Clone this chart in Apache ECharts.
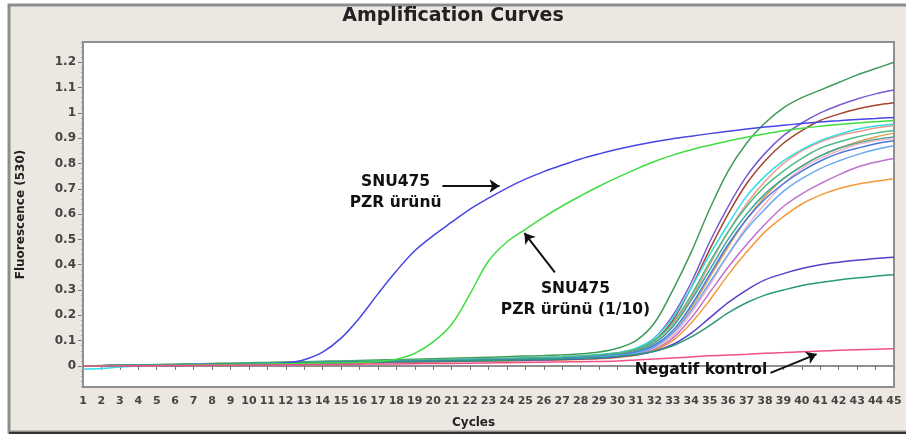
<!DOCTYPE html>
<html>
<head>
<meta charset="utf-8">
<script src="https://cdn.jsdelivr.net/npm/echarts@6/dist/echarts.min.js"></script>
<style>
  html, body { margin: 0; padding: 0; background: #fff; }
  #chart { width: 906px; height: 437px; }
</style>
</head>
<body>
<div id="chart"></div>
<script>
// cycle numbers on the x axis
var cycles = [1, 2, 3, 4, 5, 6, 7, 8, 9, 10, 11, 12, 13, 14, 15, 16, 17, 18, 19, 20,
  21, 22, 23, 24, 25, 26, 27, 28, 29, 30, 31, 32, 33, 34, 35, 36, 37, 38, 39, 40,
  41, 42, 43, 44, 45];
var yTicks = [0, 0.1, 0.2, 0.3, 0.4, 0.5, 0.6, 0.7, 0.8, 0.9, 1, 1.1, 1.2];

// fluorescence per cycle
var sampleGreen = [0.000, 0.002, 0.003, 0.004, 0.006, 0.007, 0.008, 0.010, 0.011, 0.013,
  0.014, 0.016, 0.017, 0.019, 0.020, 0.022, 0.024, 0.025, 0.027, 0.029,
  0.031, 0.033, 0.035, 0.037, 0.039, 0.041, 0.044, 0.048, 0.055,
  0.070, 0.10, 0.17, 0.30, 0.45, 0.62, 0.77, 0.88, 0.96, 1.02, 1.06, 1.09, 1.12, 1.15, 1.175, 1.20];
var samplePurple = [0.000, 0.001, 0.002, 0.003, 0.004, 0.005, 0.006, 0.007, 0.008, 0.009,
  0.010, 0.012, 0.013, 0.014, 0.016, 0.017, 0.018, 0.020, 0.021, 0.022,
  0.024, 0.025, 0.027, 0.028, 0.030, 0.032, 0.034, 0.037, 0.042,
  0.050, 0.068, 0.11, 0.20, 0.33, 0.49, 0.63, 0.75, 0.84, 0.91, 0.96, 1.00, 1.03, 1.055, 1.075, 1.09];
var sampleBrown = [0.000, 0.001, 0.002, 0.002, 0.003, 0.004, 0.005, 0.006, 0.007, 0.008,
  0.009, 0.010, 0.011, 0.012, 0.013, 0.014, 0.015, 0.016, 0.017, 0.018,
  0.019, 0.020, 0.022, 0.023, 0.025, 0.027, 0.030, 0.034, 0.040,
  0.048, 0.064, 0.10, 0.18, 0.31, 0.46, 0.60, 0.72, 0.81, 0.88, 0.93, 0.97, 0.995, 1.015, 1.03, 1.04];
var sampleSalmon = [0.000, 0.000, 0.001, 0.002, 0.003, 0.004, 0.005, 0.006, 0.007, 0.008,
  0.009, 0.010, 0.011, 0.012, 0.013, 0.014, 0.015, 0.016, 0.017, 0.018,
  0.019, 0.020, 0.021, 0.022, 0.024, 0.026, 0.028, 0.032, 0.037,
  0.045, 0.058, 0.09, 0.16, 0.27, 0.40, 0.53, 0.64, 0.73, 0.80, 0.85, 0.885, 0.91, 0.925, 0.94, 0.95];
var sampleCyan = [-0.012, -0.010, -0.004, 0.000, 0.002, 0.004, 0.005, 0.006, 0.008, 0.009,
  0.010, 0.012, 0.013, 0.014, 0.016, 0.017, 0.018, 0.020, 0.021, 0.022,
  0.024, 0.025, 0.027, 0.029, 0.031, 0.033, 0.035, 0.039, 0.044,
  0.052, 0.070, 0.11, 0.19, 0.31, 0.44, 0.56, 0.67, 0.75, 0.81, 0.855, 0.89, 0.915, 0.935, 0.948, 0.955];
var sampleSeaGreen = [0.000, 0.001, 0.002, 0.003, 0.004, 0.006, 0.007, 0.009, 0.010, 0.011,
  0.013, 0.014, 0.015, 0.017, 0.018, 0.019, 0.021, 0.022, 0.024, 0.025,
  0.027, 0.028, 0.030, 0.031, 0.033, 0.035, 0.037, 0.040, 0.045,
  0.052, 0.066, 0.10, 0.17, 0.28, 0.41, 0.53, 0.63, 0.71, 0.77, 0.82, 0.86, 0.885, 0.905, 0.92, 0.93];
var sampleTan = [0.000, 0.001, 0.001, 0.002, 0.003, 0.004, 0.005, 0.006, 0.007, 0.008,
  0.009, 0.010, 0.011, 0.012, 0.013, 0.014, 0.015, 0.016, 0.017, 0.018,
  0.019, 0.020, 0.021, 0.022, 0.023, 0.025, 0.027, 0.030, 0.034,
  0.040, 0.050, 0.078, 0.13, 0.23, 0.35, 0.47, 0.58, 0.67, 0.74, 0.79, 0.83, 0.86, 0.885, 0.905, 0.92];
var sampleTeal = [0.000, 0.001, 0.002, 0.003, 0.004, 0.005, 0.006, 0.007, 0.008, 0.010,
  0.011, 0.012, 0.013, 0.014, 0.015, 0.016, 0.018, 0.019, 0.020, 0.021,
  0.022, 0.024, 0.025, 0.026, 0.028, 0.030, 0.032, 0.035, 0.040,
  0.046, 0.058, 0.09, 0.155, 0.26, 0.38, 0.50, 0.60, 0.68, 0.74, 0.79, 0.83, 0.86, 0.88, 0.895, 0.905];
var samplePink = [0.000, 0.000, 0.001, 0.002, 0.002, 0.003, 0.004, 0.005, 0.006, 0.007,
  0.008, 0.009, 0.010, 0.011, 0.012, 0.013, 0.014, 0.015, 0.016, 0.017,
  0.018, 0.019, 0.020, 0.021, 0.022, 0.024, 0.026, 0.029, 0.033,
  0.039, 0.048, 0.072, 0.12, 0.21, 0.32, 0.44, 0.55, 0.64, 0.72, 0.78, 0.82, 0.85, 0.875, 0.89, 0.90];
var sampleRoyal = [0.000, 0.001, 0.002, 0.003, 0.004, 0.005, 0.006, 0.007, 0.008, 0.009,
  0.010, 0.011, 0.012, 0.014, 0.015, 0.016, 0.017, 0.018, 0.019, 0.020,
  0.021, 0.022, 0.023, 0.025, 0.026, 0.028, 0.030, 0.033, 0.037,
  0.043, 0.054, 0.082, 0.14, 0.24, 0.36, 0.48, 0.58, 0.66, 0.72, 0.77, 0.81, 0.84, 0.86, 0.878, 0.89];
var sampleSky = [0.000, 0.001, 0.001, 0.002, 0.003, 0.004, 0.005, 0.006, 0.007, 0.008,
  0.009, 0.010, 0.011, 0.012, 0.013, 0.014, 0.015, 0.016, 0.017, 0.018,
  0.019, 0.020, 0.021, 0.022, 0.024, 0.026, 0.028, 0.031, 0.035,
  0.041, 0.050, 0.075, 0.13, 0.22, 0.33, 0.44, 0.54, 0.62, 0.69, 0.74, 0.78, 0.81, 0.835, 0.855, 0.87];
var sampleViolet = [0.000, 0.000, 0.001, 0.002, 0.003, 0.004, 0.005, 0.006, 0.006, 0.007,
  0.008, 0.009, 0.010, 0.011, 0.012, 0.013, 0.014, 0.015, 0.016, 0.017,
  0.018, 0.019, 0.020, 0.021, 0.022, 0.023, 0.025, 0.028, 0.031,
  0.036, 0.044, 0.065, 0.11, 0.19, 0.29, 0.39, 0.48, 0.56, 0.63, 0.68, 0.72, 0.755, 0.785, 0.805, 0.82];
var sampleOrange = [0.000, 0.000, 0.001, 0.001, 0.002, 0.003, 0.004, 0.005, 0.006, 0.007,
  0.008, 0.009, 0.010, 0.010, 0.011, 0.012, 0.013, 0.014, 0.015, 0.016,
  0.017, 0.018, 0.019, 0.020, 0.021, 0.022, 0.024, 0.026, 0.029,
  0.034, 0.042, 0.062, 0.10, 0.17, 0.26, 0.36, 0.45, 0.53, 0.59, 0.64, 0.675, 0.70, 0.718, 0.73, 0.74];
var sampleIndigo = [0.000, 0.000, 0.001, 0.002, 0.003, 0.004, 0.005, 0.006, 0.007, 0.008,
  0.009, 0.010, 0.011, 0.012, 0.013, 0.014, 0.015, 0.016, 0.017, 0.018,
  0.019, 0.020, 0.021, 0.022, 0.023, 0.024, 0.026, 0.028, 0.031,
  0.036, 0.044, 0.058, 0.085, 0.13, 0.19, 0.25, 0.30, 0.34, 0.365, 0.385, 0.40, 0.41, 0.418, 0.425, 0.43];
var sampleLowTeal = [0.000, 0.001, 0.002, 0.003, 0.004, 0.005, 0.006, 0.007, 0.008, 0.009,
  0.010, 0.011, 0.012, 0.013, 0.014, 0.015, 0.016, 0.017, 0.018, 0.019,
  0.020, 0.021, 0.022, 0.023, 0.025, 0.026, 0.028, 0.030, 0.033,
  0.038, 0.045, 0.058, 0.08, 0.115, 0.16, 0.21, 0.25, 0.28, 0.30, 0.318, 0.33, 0.34, 0.348, 0.355, 0.36];
var snu475 = [0.000, 0.000, 0.001, 0.001, 0.002, 0.002, 0.003, 0.004, 0.005, 0.006,
  0.008, 0.012, 0.025, 0.055, 0.11, 0.19, 0.285, 0.375, 0.455, 0.515,
  0.568, 0.62, 0.663, 0.703, 0.738, 0.768, 0.794, 0.818, 0.838,
  0.856, 0.872, 0.886, 0.898, 0.908, 0.918, 0.927, 0.936, 0.944, 0.951, 0.958, 0.964, 0.969, 0.974, 0.978, 0.982];
var snu475Dil = [0.000, 0.001, 0.001, 0.002, 0.003, 0.003, 0.004, 0.005, 0.006, 0.007,
  0.008, 0.009, 0.010, 0.011, 0.012, 0.014, 0.018, 0.027, 0.05, 0.095,
  0.165, 0.285, 0.415, 0.49, 0.54, 0.588, 0.632, 0.672, 0.71,
  0.745, 0.778, 0.808, 0.833, 0.854, 0.872, 0.889, 0.904, 0.917, 0.929, 0.939, 0.947, 0.954, 0.96, 0.965, 0.97];
var negKontrol = [0.000, 0.000, 0.000, 0.001, 0.001, 0.002, 0.002, 0.003, 0.003, 0.004,
  0.004, 0.005, 0.005, 0.006, 0.006, 0.007, 0.008, 0.008, 0.009, 0.010,
  0.010, 0.011, 0.012, 0.013, 0.014, 0.015, 0.016, 0.017, 0.018,
  0.020, 0.024, 0.028, 0.032, 0.036, 0.040, 0.043, 0.046, 0.050, 0.053, 0.056, 0.059, 0.062, 0.064, 0.066, 0.068];

var curves = [
  [sampleGreen, '#3f9a5c'],
  [samplePurple, '#7b5ad6'],
  [sampleBrown, '#a4442c'],
  [sampleSalmon, '#f09a8a'],
  [sampleCyan, '#33dde8'],
  [sampleSeaGreen, '#4cbb8a'],
  [sampleTan, '#e0a050'],
  [sampleTeal, '#3aa89a'],
  [samplePink, '#f0b4c8'],
  [sampleRoyal, '#4a78e0'],
  [sampleSky, '#6aa8f0'],
  [sampleViolet, '#c070d0'],
  [sampleOrange, '#f59a3a'],
  [sampleIndigo, '#5a3ec8'],
  [sampleLowTeal, '#2a9a7a']
];

function pairs(values) {
  return cycles.map(function (c, i) { return [c, values[i]]; });
}

var textFont = 'DejaVu Sans';
var minorTicks = [];
for (var t = -8; t <= 128; t += 2) minorTicks.push(t / 100);

function curve(values, color, extra) {
  var s = {
    type: 'line',
    data: pairs(values),
    showSymbol: false,
    smooth: 0.35,
    lineStyle: { color: color, width: 1.5 },
    itemStyle: { color: color },
    emphasis: { disabled: true },
    z: 3
  };
  return Object.assign(s, extra || {});
}

function arrow(from, to) {
  return {
    silent: true,
    symbol: ['none', 'arrow'],
    symbolSize: 10,
    label: { show: false },
    lineStyle: { color: '#111', width: 2, type: 'solid' },
    data: [[{ coord: from }, { coord: to }]]
  };
}

function note(name, coord) {
  return {
    silent: true,
    symbol: 'circle',
    symbolSize: 1,
    itemStyle: { color: 'rgba(0,0,0,0)' },
    label: {
      show: true,
      position: 'inside',
      formatter: '{b}',
      color: '#111',
      fontFamily: textFont,
      fontWeight: 'bold',
      fontSize: 15.5,
      lineHeight: 21,
      align: 'center'
    },
    data: [{ name: name, coord: coord }]
  };
}

var series = curves.map(function (c) { return curve(c[0], c[1]); });
series.push(curve(snu475, '#4646e6', {
  markLine: arrow([20.5, 0.711], [23.6, 0.711]),
  markPoint: note('SNU475\nPZR ürünü', [17.96, 0.686])
}));
series.push(curve(snu475Dil, '#40dd40', {
  markLine: arrow([26.6, 0.37], [24.95, 0.525]),
  markPoint: note('SNU475\nPZR ürünü (1/10)', [27.72, 0.261])
}));
series.push(curve(negKontrol, '#f0508a', {
  z: 4,
  markLine: arrow([38.3, -0.027], [40.8, 0.047]),
  markPoint: note('Negatif kontrol', [34.53, -0.016])
}));

var myChart = echarts.init(document.getElementById('chart'));
myChart.setOption({
  animation: false,
  backgroundColor: '#ffffff',
  graphic: [
    {
      type: 'rect',
      z: -10,
      shape: { x: 9, y: 5, width: 910, height: 427 },
      style: { fill: '#ece8e1', stroke: '#8d8d8d', lineWidth: 3 }
    },
    {
      type: 'line',
      z: -9,
      shape: { x1: 9, y1: 433, x2: 906, y2: 433 },
      style: { stroke: '#333', lineWidth: 2 }
    },
    {
      type: 'text',
      left: 452,
      top: 417,
      style: { text: 'Cycles', fill: '#222', font: 'bold 12px DejaVu Sans' }
    }
  ],
  title: {
    text: 'Amplification Curves',
    left: 'center',
    top: 7,
    padding: 0,
    textStyle: { fontFamily: textFont, fontSize: 19, fontWeight: 900, color: '#222' }
  },
  grid: {
    show: true,
    left: 83,
    right: 12,
    top: 42,
    bottom: 50,
    backgroundColor: '#ffffff',
    borderColor: '#8f8f8f',
    borderWidth: 2
  },
  xAxis: {
    type: 'value',
    min: 1,
    max: 45,
    interval: 1,
    axisLine: { show: true, lineStyle: { color: '#8f8f8f', width: 2 } },
    axisTick: { show: true, length: 4, lineStyle: { color: '#777' } },
    axisLabel: {
      margin: 9,
      color: '#444',
      fontFamily: textFont,
      fontWeight: 'bold',
      fontSize: 11
    },
    splitLine: { show: false }
  },
  yAxis: [
    {
      type: 'value',
      min: -0.083,
      max: 1.28,
      name: 'Fluorescence (530)',
      nameLocation: 'middle',
      nameGap: 56,
      nameTextStyle: { fontFamily: textFont, fontWeight: 'bold', fontSize: 12, color: '#222' },
      axisLine: { show: true, lineStyle: { color: '#8f8f8f', width: 2 } },
      axisTick: { show: true, length: 5, customValues: yTicks, lineStyle: { color: '#777' } },
      axisLabel: {
        customValues: yTicks,
        margin: 7,
        color: '#444',
        fontFamily: textFont,
        fontWeight: 'bold',
        fontSize: 12,
        formatter: function (v) { return String(Math.round(v * 10) / 10); }
      },
      splitLine: { show: false }
    },
    {
      type: 'value',
      min: -0.083,
      max: 1.28,
      position: 'left',
      axisLine: { show: false },
      axisTick: { show: true, length: 2, customValues: minorTicks, lineStyle: { color: '#999' } },
      axisLabel: { show: false },
      splitLine: { show: false }
    }
  ],
  series: series
});
window.onresize = myChart.resize;
</script>
</body>
</html>
